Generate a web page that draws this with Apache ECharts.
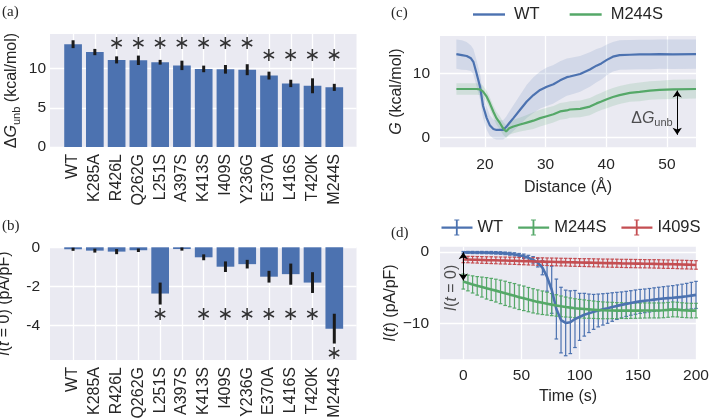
<!DOCTYPE html>
<html>
<head>
<meta charset="utf-8">
<script src="https://cdn.jsdelivr.net/npm/echarts@6.0.0/dist/echarts.min.js"></script>
<style>
html,body{margin:0;padding:0;background:#ffffff;}
#chart{width:709px;height:419px;}
</style>
</head>
<body>
<div id="chart"></div>
<script>
// ---------- Panels (a) and (b): mutants ----------
const mutants = ['WT','K285A','R426L','Q262G','L251S','A397S','K413S','I409S','Y236G','E370A','L416S','T420K','M244S'];
const dGunb = [13.1, 12.1, 11.1, 11.05, 10.8, 10.4, 9.95, 9.9, 9.85, 9.1, 8.1, 7.8, 7.6];
const dGunbErr = [0.5, 0.4, 0.45, 0.6, 0.3, 0.6, 0.42, 0.55, 0.7, 0.5, 0.47, 0.95, 0.45];
const dGStarIdx = [2, 3, 4, 5, 6, 7, 8, 9, 10, 11, 12];
const dGStarY = [13.1, 13.1, 13.1, 13.1, 13.1, 13.1, 13.1, 11.6, 11.6, 11.6, 11.6];
const iZero = [-0.1, -0.17, -0.22, -0.15, -2.36, -0.09, -0.51, -0.99, -0.86, -1.5, -1.37, -1.8, -4.15];
const iZeroErr = [0.08, 0.1, 0.13, 0.09, 0.56, 0.08, 0.15, 0.27, 0.22, 0.3, 0.54, 0.53, 0.76];
const iZeroStarIdx = [4, 6, 7, 8, 9, 10, 11, 12];
const iZeroStarY = [-3.47, -3.47, -3.47, -3.47, -3.47, -3.47, -3.47, -5.44];
const ticksAy = [0, 5, 10];
const ticksBy = [0, -2, -4];

// ---------- Panel (c): free energy profiles ----------
const distance = [15.3,16.2,17.0,17.7,18.1,18.6,19.2,19.7,20.3,20.8,21.4,21.9,22.5,23.0,23.5,24.0,24.7,25.8,26.9,28.0,29.1,30.2,31.3,32.4,33.5,34.0,35.7,37.3,38.4,39.2,40.1,41.1,42.2,43.9,45.5,47.2,48.8,51.0,54.8];
const gWT = [13.0,12.85,12.7,12.35,11.8,10.1,7.9,4.9,3.0,1.9,1.3,1.15,1.15,1.15,1.6,2.2,3.0,4.3,5.6,6.6,7.4,7.9,8.3,8.9,9.4,9.5,9.9,10.6,11.2,11.55,12.1,12.6,12.85,12.9,12.95,12.95,13.0,12.97,13.0];
const gWTsd = [2.3,2.3,2.2,2.0,2.0,2.0,2.0,1.9,1.8,1.6,1.5,1.5,1.5,1.5,1.6,1.8,2.0,2.3,2.6,2.8,2.9,3.0,3.0,3.0,2.9,2.9,2.8,2.7,2.6,2.5,2.4,2.3,2.3,2.3,2.3,2.3,2.3,2.3,2.3];
const gM244S = [7.55,7.55,7.55,7.55,7.55,7.55,7.5,7.15,6.35,5.35,4.0,3.0,2.2,1.4,0.9,1.4,1.7,2.0,2.3,2.6,3.0,3.3,3.6,4.05,4.2,4.35,4.45,4.8,5.3,5.6,5.95,6.3,6.6,6.95,7.1,7.3,7.4,7.5,7.55];
const gM244Ssd = [0.9,0.9,0.9,0.9,0.9,0.9,0.9,0.9,0.9,0.9,0.95,1.0,1.0,1.0,1.0,1.0,1.05,1.1,1.2,1.3,1.3,1.3,1.3,1.3,1.3,1.3,1.3,1.35,1.35,1.35,1.4,1.4,1.4,1.4,1.45,1.45,1.45,1.5,1.5];
const ticksCx = [20, 30, 40, 50];
const ticksCy = [0, 10];
const dGArrow = [51.7, 7.3, 0.4];   // x, top, bottom
const dGLabelAt = [51.7, 3.0];

// ---------- Panel (d): currents ----------
const time = [0,4,8,12,16,20,24,28,32,36,40,44,48,52,56,60,64,68,72,76,80,84,88,92,96,100,104,108,112,116,120,124,128,132,136,140,144,148,152,156,160,164,168,172,176,180,184,188,192,196,200];
const iWT = [-0.05,-0.06,-0.07,-0.08,-0.08,-0.09,-0.1,-0.12,-0.15,-0.19,
             -0.25,-0.33,-0.45,-0.6,-0.82,-1.1,-1.5,-2.2,-3.5,-5.3,
             -8.0,-9.55,-9.95,-9.85,-9.4,-9.1,-8.8,-8.6,-8.4,-8.2,
             -8.05,-7.9,-7.72,-7.56,-7.42,-7.28,-7.15,-7.03,-6.93,-6.85,
             -6.77,-6.68,-6.6,-6.53,-6.47,-6.42,-6.36,-6.3,-6.22,-6.12,
             -6.02];
const iWTerr = [0.12,0.14,0.15,0.15,0.16,0.16,0.17,0.17,0.18,0.18,
                0.2,0.22,0.25,0.3,0.35,0.45,0.6,1.0,2.0,3.3,
                4.2,4.6,4.6,4.4,4.0,3.3,3.0,2.7,2.45,2.3,
                2.2,2.1,2.0,1.9,1.82,1.76,1.72,1.7,1.68,1.66,
                1.65,1.65,1.65,1.66,1.68,1.7,1.74,1.78,1.82,1.86,
                1.9];
const iM244S = [-4.15,-4.35,-4.55,-4.75,-4.92,-5.1,-5.25,-5.42,-5.6,-5.8,
                -5.98,-6.15,-6.35,-6.5,-6.68,-6.85,-7.0,-7.12,-7.25,-7.38,
                -7.5,-7.62,-7.72,-7.8,-7.88,-7.95,-8.0,-8.05,-8.1,-8.15,
                -8.18,-8.2,-8.2,-8.22,-8.22,-8.23,-8.23,-8.22,-8.22,-8.2,
                -8.2,-8.2,-8.2,-8.18,-8.12,-8.05,-8.08,-8.15,-8.2,-8.22,
                -8.22];
const iM244Serr = [1.05,1.1,1.2,1.3,1.4,1.5,1.55,1.6,1.65,1.7,
                   1.7,1.72,1.72,1.72,1.7,1.7,1.68,1.65,1.6,1.55,
                   1.5,1.45,1.4,1.35,1.32,1.3,1.28,1.25,1.22,1.2,
                   1.18,1.16,1.14,1.12,1.1,1.1,1.08,1.08,1.06,1.06,
                   1.05,1.05,1.05,1.04,1.04,1.04,1.03,1.03,1.02,1.02,
                   1.02];
const iI409S = [-1.05,-1.06,-1.08,-1.1,-1.12,-1.14,-1.15,-1.17,-1.19,-1.2,
                -1.22,-1.24,-1.26,-1.28,-1.3,-1.32,-1.33,-1.35,-1.37,-1.38,
                -1.4,-1.42,-1.43,-1.45,-1.46,-1.48,-1.49,-1.5,-1.52,-1.53,
                -1.55,-1.56,-1.57,-1.58,-1.6,-1.61,-1.62,-1.63,-1.64,-1.65,
                -1.66,-1.67,-1.68,-1.7,-1.71,-1.72,-1.74,-1.76,-1.78,-1.8,
                -1.82];
const iI409Serr = [0.45,0.45,0.46,0.46,0.47,0.47,0.48,0.48,0.49,0.49,
                   0.5,0.5,0.51,0.51,0.52,0.52,0.52,0.53,0.53,0.53,
                   0.54,0.54,0.54,0.55,0.55,0.55,0.55,0.56,0.56,0.56,
                   0.56,0.57,0.57,0.57,0.57,0.58,0.58,0.58,0.58,0.58,
                   0.58,0.59,0.59,0.59,0.59,0.59,0.6,0.6,0.6,0.6,
                   0.6];
const ticksDx = [0, 50, 100, 150, 200];
const ticksDy = [0, -10];
const i0Arrow = [0, -0.05, -4.0];   // t, top, bottom
const i0LabelAt = [-9.7, -5.05];

// ---------- styling ----------
const FONT = 'Liberation Sans';
const TXT = '#262626';
const BLUE = '#4C72B0', GREEN = '#55A868', RED = '#C44E52';
const BG = '#EAEAF2';
const FS = 15.5;      // tick labels
const FSN = 16;       // axis names / annotations
const FSR = 16;       // rotated category labels
const FSL = 16.5;     // legends

const richAxis = {
  n: {fontSize: FSN, fontFamily: FONT, color: TXT, lineHeight: 20},
  i: {fontSize: FSN, fontFamily: FONT, color: TXT, fontStyle: 'italic', lineHeight: 20},
  s: {fontSize: 11, fontFamily: FONT, color: TXT, lineHeight: 11, verticalAlign: 'bottom'}
};

function xCatAxis(grid, margin) {
  const idx = mutants.map((m, i) => i);
  return {
    type: 'value', gridIndex: grid, min: -1.06, max: 13.02,
    axisLine: {show: false}, axisTick: {show: false, customValues: idx},
    splitLine: {show: true, lineStyle: {color: '#ffffff', width: 1.3}},
    axisLabel: {customValues: idx, formatter: v => mutants[Math.round(v)], rotate: 90, margin: margin,
                fontSize: FSR, color: TXT, fontFamily: FONT}
  };
}
function valAxis(grid, min, max, ticks, margin, fmt, extra) {
  return Object.assign({
    type: 'value', gridIndex: grid, min: min, max: max,
    axisLine: {show: false}, axisTick: {show: false, customValues: ticks},
    splitLine: {show: true, lineStyle: {color: '#ffffff', width: 1.3}},
    axisLabel: {customValues: ticks, margin: margin, fontSize: FS, color: TXT, fontFamily: FONT, formatter: fmt},
    nameMoveOverlap: false,
    nameTextStyle: {fontSize: FSN, color: TXT, fontFamily: FONT, lineHeight: 19, rich: richAxis}
  }, extra || {});
}
const minusFmt = v => (v < 0 ? '\u2212' + (-v) : String(v));
const hyphenFmt = v => (v < 0 ? '-' + (-v) : String(v));

function errRender(width, cap, color) {
  return function (params, api) {
    const x = api.value(0), lo = api.value(1), hi = api.value(2);
    const p1 = api.coord([x, lo]), p2 = api.coord([x, hi]);
    const children = [{type: 'line', shape: {x1: p1[0], y1: p1[1], x2: p2[0], y2: p2[1]},
                       style: {stroke: color, lineWidth: width}}];
    if (cap > 0) {
      children.push({type: 'line', shape: {x1: p1[0] - cap, y1: p1[1], x2: p1[0] + cap, y2: p1[1]}, style: {stroke: color, lineWidth: width}});
      children.push({type: 'line', shape: {x1: p2[0] - cap, y1: p2[1], x2: p2[0] + cap, y2: p2[1]}, style: {stroke: color, lineWidth: width}});
    }
    return {type: 'group', children: children};
  };
}
function bandRender(xs, mid, sd, color) {
  return function (params, api) {
    if (params.dataIndex !== 0) return null;
    const pts = [];
    for (let i = 0; i < xs.length; i++) pts.push(api.coord([xs[i], mid[i] + sd[i]]));
    for (let i = xs.length - 1; i >= 0; i--) pts.push(api.coord([xs[i], mid[i] - sd[i]]));
    return {type: 'polygon', shape: {points: pts}, style: {fill: color}};
  };
}
function starSeries(xi, yi, idx, ys) {
  return {
    type: 'scatter', xAxisIndex: xi, yAxisIndex: yi, silent: true, symbolSize: 1,
    itemStyle: {color: 'rgba(0,0,0,0)'}, z: 5,
    data: idx.map((k, j) => [k, ys[j]]),
    label: {show: true, position: 'inside', formatter: '\u2217', fontSize: 19, fontFamily: 'DejaVu Sans', color: '#000'}
  };
}
const ERRICON = 'path://M0,7h31v2.2h-31z M14.4,0h1.8v16h-1.8z M12.8,0h5v1.1h-5z M12.8,14.9h5v1.1h-5z';

const option = {
  animation: false,
  backgroundColor: '#ffffff',
  textStyle: {fontFamily: FONT, color: TXT},
  grid: [
    {left: 50, top: 34, width: 306.5, height: 113, show: true, backgroundColor: BG, borderWidth: 0, containLabel: false, outerBoundsMode: 'none'},
    {left: 50, top: 247.3, width: 306.5, height: 112.7, show: true, backgroundColor: BG, borderWidth: 0, containLabel: false, outerBoundsMode: 'none'},
    {left: 440, top: 36, width: 256, height: 111.3, show: true, backgroundColor: BG, borderWidth: 0, containLabel: false, outerBoundsMode: 'none'},
    {left: 440, top: 246.7, width: 256, height: 112.6, show: true, backgroundColor: BG, borderWidth: 0, containLabel: false, outerBoundsMode: 'none'}
  ],
  xAxis: [
    xCatAxis(0, 7),
    xCatAxis(1, 7),
    valAxis(2, 12.6, 54.8, ticksCx, 9, v => String(v),
            {name: 'Distance (\u00C5)', nameLocation: 'middle', nameGap: 31}),
    valAxis(3, -20, 200, ticksDx, 8, v => String(v),
            {name: 'Time (s)', nameLocation: 'middle', nameGap: 28})
  ],
  yAxis: [
    valAxis(0, 0, 14.4, ticksAy, 4, v => String(v),
            {name: '{n|\u0394}{i|G}{s|unb}{n| (kcal/mol)}', nameLocation: 'middle', nameRotate: 90, nameGap: 28}),
    valAxis(1, -5.75, 0, ticksBy, 10, hyphenFmt,
            {name: '{i|I}{n|(}{i|t}{n| = 0) (pA/pF)}', nameLocation: 'middle', nameRotate: 90, nameGap: 35}),
    valAxis(2, -1.56, 15.83, ticksCy, 10, v => String(v),
            {name: '{i|G}{n| (kcal/mol)}', nameLocation: 'middle', nameRotate: 90, nameGap: 33}),
    valAxis(3, -15.05, 0.74, ticksDy, 11, minusFmt,
            {name: '{i|I}{n|(}{i|t}{n|) (pA/pF)}', nameLocation: 'middle', nameRotate: 90, nameGap: 39})
  ],
  legend: [
    {
      data: ['WT|c', 'M244S|c'], left: 473, top: 6, padding: 0, orient: 'horizontal',
      itemWidth: 32, itemHeight: 2.4, icon: 'rect', itemGap: 30, selectedMode: false,
      itemStyle: {borderWidth: 0},
      formatter: n => '{t|' + n.split('|')[0] + '}',
      textStyle: {fontSize: FSL, color: TXT, fontFamily: FONT,
                  rich: {t: {fontSize: FSL, color: TXT, fontFamily: FONT, padding: [0, 0, 0, 4]}}}
    },
    {
      data: ['WT|d', 'M244S|d', 'I409S|d'], left: 441.5, top: 219, padding: 0, orient: 'horizontal',
      itemWidth: 31, itemHeight: 16, icon: ERRICON, itemGap: 15, selectedMode: false,
      itemStyle: {borderWidth: 0},
      formatter: n => n.split('|')[0],
      textStyle: {fontSize: FSL, color: TXT, fontFamily: FONT}
    }
  ],
  series: [
    // (a)
    {type: 'bar', xAxisIndex: 0, yAxisIndex: 0, silent: true, barWidth: 17.7,
     itemStyle: {color: BLUE}, data: dGunb.map((v, i) => [i, v])},
    {type: 'custom', xAxisIndex: 0, yAxisIndex: 0, silent: true, z: 4,
     encode: {x: 0, y: [1, 2]}, renderItem: errRender(3, 0, '#1a1a1a'),
     data: dGunb.map((v, i) => [i, v - dGunbErr[i], v + dGunbErr[i]])},
    starSeries(0, 0, dGStarIdx, dGStarY),
    // (b)
    {type: 'bar', xAxisIndex: 1, yAxisIndex: 1, silent: true, barWidth: 17.7,
     itemStyle: {color: BLUE}, data: iZero.map((v, i) => [i, v])},
    {type: 'custom', xAxisIndex: 1, yAxisIndex: 1, silent: true, z: 4,
     encode: {x: 0, y: [1, 2]}, renderItem: errRender(3, 0, '#1a1a1a'),
     data: iZero.map((v, i) => [i, v - iZeroErr[i], v + iZeroErr[i]])},
    starSeries(1, 1, iZeroStarIdx, iZeroStarY),
    // (c) bands
    {type: 'custom', name: 'bandWT', xAxisIndex: 2, yAxisIndex: 2, silent: true, z: 1,
     encode: {x: 0, y: [1, 2]}, renderItem: bandRender(distance, gWT, gWTsd, 'rgba(76,114,176,0.15)'),
     data: distance.map((x, i) => [x, gWT[i] - gWTsd[i], gWT[i] + gWTsd[i]])},
    {type: 'custom', name: 'bandM', xAxisIndex: 2, yAxisIndex: 2, silent: true, z: 1,
     encode: {x: 0, y: [1, 2]}, renderItem: bandRender(distance, gM244S, gM244Ssd, 'rgba(85,168,104,0.17)'),
     data: distance.map((x, i) => [x, gM244S[i] - gM244Ssd[i], gM244S[i] + gM244Ssd[i]])},
    // (c) lines
    {type: 'line', name: 'WT|c', xAxisIndex: 2, yAxisIndex: 2, silent: true, z: 3, symbol: 'none',
     lineStyle: {color: BLUE, width: 2.2}, itemStyle: {color: BLUE},
     data: distance.map((x, i) => [x, gWT[i]])},
    {type: 'line', name: 'M244S|c', xAxisIndex: 2, yAxisIndex: 2, silent: true, z: 3, symbol: 'none',
     lineStyle: {color: GREEN, width: 2.2}, itemStyle: {color: GREEN},
     data: distance.map((x, i) => [x, gM244S[i]]),
     markLine: {silent: true, symbol: ['arrow', 'arrow'], symbolSize: 7, animation: false,
                lineStyle: {color: '#000', width: 1, type: 'solid'}, label: {show: false},
                emphasis: {disabled: true},
                data: [[{coord: [dGArrow[0], dGArrow[1]]}, {coord: [dGArrow[0], dGArrow[2]]}]]}},
    {type: 'scatter', xAxisIndex: 2, yAxisIndex: 2, silent: true, symbolSize: 1, z: 6,
     itemStyle: {color: 'rgba(0,0,0,0)'}, data: [dGLabelAt],
     label: {show: true, position: 'left', distance: 4, formatter: '{n|\u0394}{i|G}{s|unb}', rich: richAxis}},
    // (d)
    {type: 'custom', xAxisIndex: 3, yAxisIndex: 3, silent: true, z: 2,
     encode: {x: 0, y: [1, 2]}, renderItem: errRender(1.2, 1.8, BLUE),
     data: time.map((t, i) => [t, iWT[i] - iWTerr[i], iWT[i] + iWTerr[i]])},
    {type: 'line', name: 'WT|d', xAxisIndex: 3, yAxisIndex: 3, silent: true, z: 3, symbol: 'none',
     lineStyle: {color: BLUE, width: 2.6}, itemStyle: {color: BLUE},
     data: time.map((t, i) => [t, iWT[i]]),
     markLine: {silent: true, symbol: ['arrow', 'arrow'], symbolSize: 7, animation: false,
                lineStyle: {color: '#000', width: 1, type: 'solid'}, label: {show: false},
                emphasis: {disabled: true},
                data: [[{coord: [i0Arrow[0], i0Arrow[1]]}, {coord: [i0Arrow[0], i0Arrow[2]]}]]}},
    {type: 'custom', xAxisIndex: 3, yAxisIndex: 3, silent: true, z: 2,
     encode: {x: 0, y: [1, 2]}, renderItem: errRender(1.2, 1.8, GREEN),
     data: time.map((t, i) => [t, iM244S[i] - iM244Serr[i], iM244S[i] + iM244Serr[i]])},
    {type: 'line', name: 'M244S|d', xAxisIndex: 3, yAxisIndex: 3, silent: true, z: 3, symbol: 'none',
     lineStyle: {color: GREEN, width: 2.6}, itemStyle: {color: GREEN},
     data: time.map((t, i) => [t, iM244S[i]])},
    {type: 'custom', xAxisIndex: 3, yAxisIndex: 3, silent: true, z: 2,
     encode: {x: 0, y: [1, 2]}, renderItem: errRender(1.2, 1.8, RED),
     data: time.map((t, i) => [t, iI409S[i] - iI409Serr[i], iI409S[i] + iI409Serr[i]])},
    {type: 'line', name: 'I409S|d', xAxisIndex: 3, yAxisIndex: 3, silent: true, z: 3, symbol: 'none',
     lineStyle: {color: RED, width: 2.6}, itemStyle: {color: RED},
     data: time.map((t, i) => [t, iI409S[i]])},
    {type: 'scatter', xAxisIndex: 3, yAxisIndex: 3, silent: true, symbolSize: 1, z: 6,
     itemStyle: {color: 'rgba(0,0,0,0)'}, data: [i0LabelAt],
     label: {show: true, position: 'inside', rotate: 90, formatter: '{i|I}{n|(}{i|t}{n| = 0)}', rich: richAxis}}
  ],
  graphic: [
    {type: 'text', x: 2, y: 12.5, style: {text: '(a)', fontSize: 15, fontFamily: 'Liberation Serif', fill: TXT, verticalAlign: 'middle'}},
    {type: 'text', x: 2, y: 226.5, style: {text: '(b)', fontSize: 15, fontFamily: 'Liberation Serif', fill: TXT, verticalAlign: 'middle'}},
    {type: 'text', x: 391, y: 13, style: {text: '(c)', fontSize: 15, fontFamily: 'Liberation Serif', fill: TXT, verticalAlign: 'middle'}},
    {type: 'text', x: 391, y: 233, style: {text: '(d)', fontSize: 15, fontFamily: 'Liberation Serif', fill: TXT, verticalAlign: 'middle'}}
  ]
};

const chart = echarts.init(document.getElementById('chart'), null, {renderer: 'canvas'});
chart.setOption(option);
</script>
</body>
</html>
